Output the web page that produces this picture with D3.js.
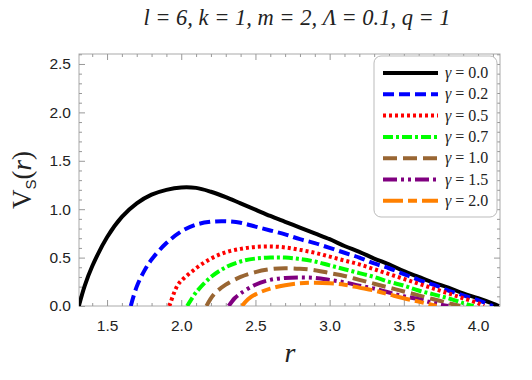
<!DOCTYPE html>
<html>
<head>
<meta charset="utf-8">
<script src="https://cdn.jsdelivr.net/npm/d3@7"></script>
<style>
  body { margin: 0; background: #fff; }
  .tick text { font-family: "Liberation Sans", Arial, sans-serif; font-size: 15.5px; fill: #222; }
  .tick line { stroke: #999; }
  .domain { display: none; }
</style>
</head>
<body>
<script>
// gamma values and their curves V_S(r)
var gammas = ["0.0", "0.2", "0.5", "0.7", "1.0", "1.5", "2.0"];
var colors = ["#000000", "#0000ff", "#ff0000", "#00ff00", "#996633", "#800080", "#ff8000"];
var dashes = ["none", "11,5", "3,3", "10,3,3,3", "14,6", "14,4,3,4,3,4", "20,5,9,5"];

var r0 = [1.31, 1.35, 1.4, 1.5, 1.6, 1.7, 1.8, 1.9, 2.0, 2.1, 2.2, 2.3, 2.4, 2.5, 2.6, 2.7, 2.8, 2.9, 3.0, 3.1, 3.2, 3.3, 3.4, 3.5, 3.6, 3.7, 3.8, 3.9, 4.0, 4.1, 4.14];
var v0 = [0, 0.21, 0.41, 0.71, 0.92, 1.06, 1.15, 1.20, 1.225, 1.22, 1.18, 1.125, 1.06, 0.995, 0.93, 0.87, 0.81, 0.75, 0.69, 0.62, 0.56, 0.49, 0.43, 0.36, 0.30, 0.24, 0.19, 0.13, 0.08, 0.025, 0];

var r1 = [1.66, 1.7, 1.75, 1.8, 1.9, 2.0, 2.1, 2.2, 2.3, 2.4, 2.5, 2.6, 2.7, 2.8, 2.9, 3.0, 3.1, 3.2, 3.3, 3.4, 3.5, 3.6, 3.7, 3.8, 3.9, 4.0, 4.1];
var v1 = [0, 0.2, 0.36, 0.48, 0.65, 0.77, 0.84, 0.87, 0.875, 0.86, 0.82, 0.78, 0.74, 0.69, 0.65, 0.60, 0.55, 0.50, 0.44, 0.39, 0.33, 0.27, 0.22, 0.16, 0.11, 0.06, 0];

var r2 = [1.92, 1.97, 2.0, 2.1, 2.2, 2.3, 2.4, 2.5, 2.6, 2.7, 2.8, 2.9, 3.0, 3.1, 3.2, 3.3, 3.4, 3.5, 3.6, 3.7, 3.8, 3.9, 4.0, 4.04];
var v2 = [0, 0.2, 0.26, 0.39, 0.49, 0.555, 0.59, 0.61, 0.615, 0.605, 0.58, 0.55, 0.51, 0.47, 0.43, 0.38, 0.33, 0.28, 0.23, 0.18, 0.13, 0.08, 0.03, 0];

var r3 = [2.04, 2.1, 2.2, 2.3, 2.4, 2.5, 2.6, 2.7, 2.8, 2.9, 3.0, 3.1, 3.2, 3.3, 3.4, 3.5, 3.6, 3.7, 3.8, 3.9, 3.97];
var v3 = [0, 0.14, 0.30, 0.40, 0.46, 0.49, 0.50, 0.50, 0.485, 0.46, 0.42, 0.38, 0.34, 0.30, 0.25, 0.21, 0.16, 0.12, 0.08, 0.03, 0];

var r4 = [2.17, 2.22, 2.3, 2.4, 2.5, 2.6, 2.7, 2.8, 2.9, 3.0, 3.1, 3.2, 3.3, 3.4, 3.5, 3.6, 3.7, 3.8, 3.88];
var v4 = [0, 0.12, 0.22, 0.30, 0.35, 0.38, 0.39, 0.385, 0.37, 0.34, 0.31, 0.27, 0.23, 0.19, 0.15, 0.11, 0.07, 0.03, 0];

var r5 = [2.32, 2.36, 2.4, 2.5, 2.6, 2.7, 2.8, 2.9, 3.0, 3.1, 3.2, 3.3, 3.4, 3.5, 3.6, 3.7, 3.8];
var v5 = [0, 0.08, 0.13, 0.22, 0.27, 0.29, 0.295, 0.29, 0.27, 0.245, 0.21, 0.18, 0.14, 0.10, 0.07, 0.03, 0];

var r6 = [2.41, 2.45, 2.5, 2.6, 2.7, 2.8, 2.9, 3.0, 3.1, 3.2, 3.3, 3.4, 3.5, 3.6, 3.72];
var v6 = [0, 0.07, 0.12, 0.18, 0.215, 0.235, 0.24, 0.235, 0.22, 0.19, 0.16, 0.12, 0.08, 0.045, 0];

var rs = [r0, r1, r2, r3, r4, r5, r6];
var vs = [v0, v1, v2, v3, v4, v5, v6];

var xTicks = [1.5, 2.0, 2.5, 3.0, 3.5, 4.0];
var yTicks = [0.0, 0.5, 1.0, 1.5, 2.0, 2.5];

var margin = {top: 54, right: 32, bottom: 74, left: 79};
var W = 532, H = 380;
var width = W - margin.left - margin.right;
var height = H - margin.top - margin.bottom;

var svg = d3.select("body").append("svg")
    .attr("width", W)
    .attr("height", H);

var g = svg.append("g")
    .attr("transform", "translate(" + margin.left + "," + margin.top + ")");

var x = d3.scaleLinear().domain([1.311, 4.148]).range([0, width]);
var y = d3.scaleLinear().domain([0, 2.603]).range([height, 0]);

var minorX = d3.range(14, 42).map(function(i) { return i / 10; }).filter(function(v) { return xTicks.indexOf(v) < 0; });
var minorY = d3.range(1, 27).map(function(i) { return i / 10; }).filter(function(v) { return yTicks.indexOf(v) < 0; });

// frame
g.append("rect")
    .attr("width", width)
    .attr("height", height)
    .attr("fill", "none")
    .attr("stroke", "#aaa")
    .attr("stroke-width", 1);

// bottom axis
g.append("g")
    .attr("transform", "translate(0," + height + ")")
    .call(d3.axisBottom(x).tickValues(xTicks).tickSize(-6).tickPadding(14).tickFormat(d3.format(".1f")));
g.append("g")
    .attr("transform", "translate(0," + height + ")")
    .call(d3.axisBottom(x).tickValues(minorX).tickSize(-3).tickFormat(""));
// top axis
g.append("g")
    .call(d3.axisTop(x).tickValues(xTicks).tickSize(-6).tickFormat(""));
g.append("g")
    .call(d3.axisTop(x).tickValues(minorX).tickSize(-3).tickFormat(""));
// left axis
g.append("g")
    .call(d3.axisLeft(y).tickValues(yTicks).tickSize(-6).tickPadding(8).tickFormat(d3.format(".1f")));
g.append("g")
    .call(d3.axisLeft(y).tickValues(minorY).tickSize(-3).tickFormat(""));
// right axis
g.append("g")
    .attr("transform", "translate(" + width + ",0)")
    .call(d3.axisRight(y).tickValues(yTicks).tickSize(-6).tickFormat(""));
g.append("g")
    .attr("transform", "translate(" + width + ",0)")
    .call(d3.axisRight(y).tickValues(minorY).tickSize(-3).tickFormat(""));

// curves
var line = d3.line()
    .x(function(d) { return x(d[0]); })
    .y(function(d) { return y(d[1]); })
    .curve(d3.curveCatmullRom.alpha(0.5));

var clip = svg.append("clipPath").attr("id", "clip")
  .append("rect").attr("width", width).attr("height", height);

var curves = g.append("g").attr("clip-path", "url(#clip)");

gammas.forEach(function(gm, i) {
  var pts = d3.zip(rs[i], vs[i]);
  curves.append("path")
      .datum(pts)
      .attr("fill", "none")
      .attr("stroke", colors[i])
      .attr("stroke-width", 4)
      .attr("stroke-dasharray", dashes[i])
      .attr("d", line);
});

// legend
var lg = svg.append("g").attr("transform", "translate(374,56)");
lg.append("rect")
    .attr("width", 123)
    .attr("height", 161)
    .attr("rx", 7)
    .attr("fill", "#fff")
    .attr("stroke", "#bbb");

gammas.forEach(function(gm, i) {
  var yy = 17 + i * 21.3;
  lg.append("line")
      .attr("x1", 9).attr("x2", 64)
      .attr("y1", yy).attr("y2", yy)
      .attr("stroke", colors[i])
      .attr("stroke-width", 4)
      .attr("stroke-dasharray", dashes[i]);
  var t = lg.append("text")
      .attr("x", 71)
      .attr("y", yy + 5)
      .attr("font-family", "Liberation Serif, Times New Roman, serif")
      .attr("font-size", 16)
      .attr("fill", "#222");
  t.append("tspan").attr("font-style", "italic").text("γ");
  t.append("tspan").text(" = " + gm);
});

// title
svg.append("text")
    .attr("x", 297)
    .attr("y", 25)
    .attr("text-anchor", "middle")
    .attr("font-family", "Liberation Serif, Times New Roman, serif")
    .attr("font-style", "italic")
    .attr("font-size", 22.5)
    .attr("fill", "#222")
    .text("l = 6, k = 1, m = 2, Λ  = 0.1, q = 1");

// x label
svg.append("text")
    .attr("x", 290)
    .attr("y", 362)
    .attr("text-anchor", "middle")
    .attr("font-family", "Liberation Serif, Times New Roman, serif")
    .attr("font-style", "italic")
    .attr("font-size", 28)
    .attr("fill", "#222")
    .text("r");

// y label
var yl = svg.append("text")
    .attr("transform", "translate(31,180) rotate(-90)")
    .attr("text-anchor", "middle")
    .attr("font-family", "Liberation Serif, Times New Roman, serif")
    .attr("font-size", 27)
    .attr("fill", "#222");
yl.append("tspan").text("V");
yl.append("tspan").attr("font-family", "Liberation Sans, Arial, sans-serif").attr("font-size", 15).attr("dy", 5).text("S");
yl.append("tspan").attr("dy", -5).text("(");
yl.append("tspan").attr("font-style", "italic").text("r");
yl.append("tspan").text(")");
</script>
</body>
</html>
